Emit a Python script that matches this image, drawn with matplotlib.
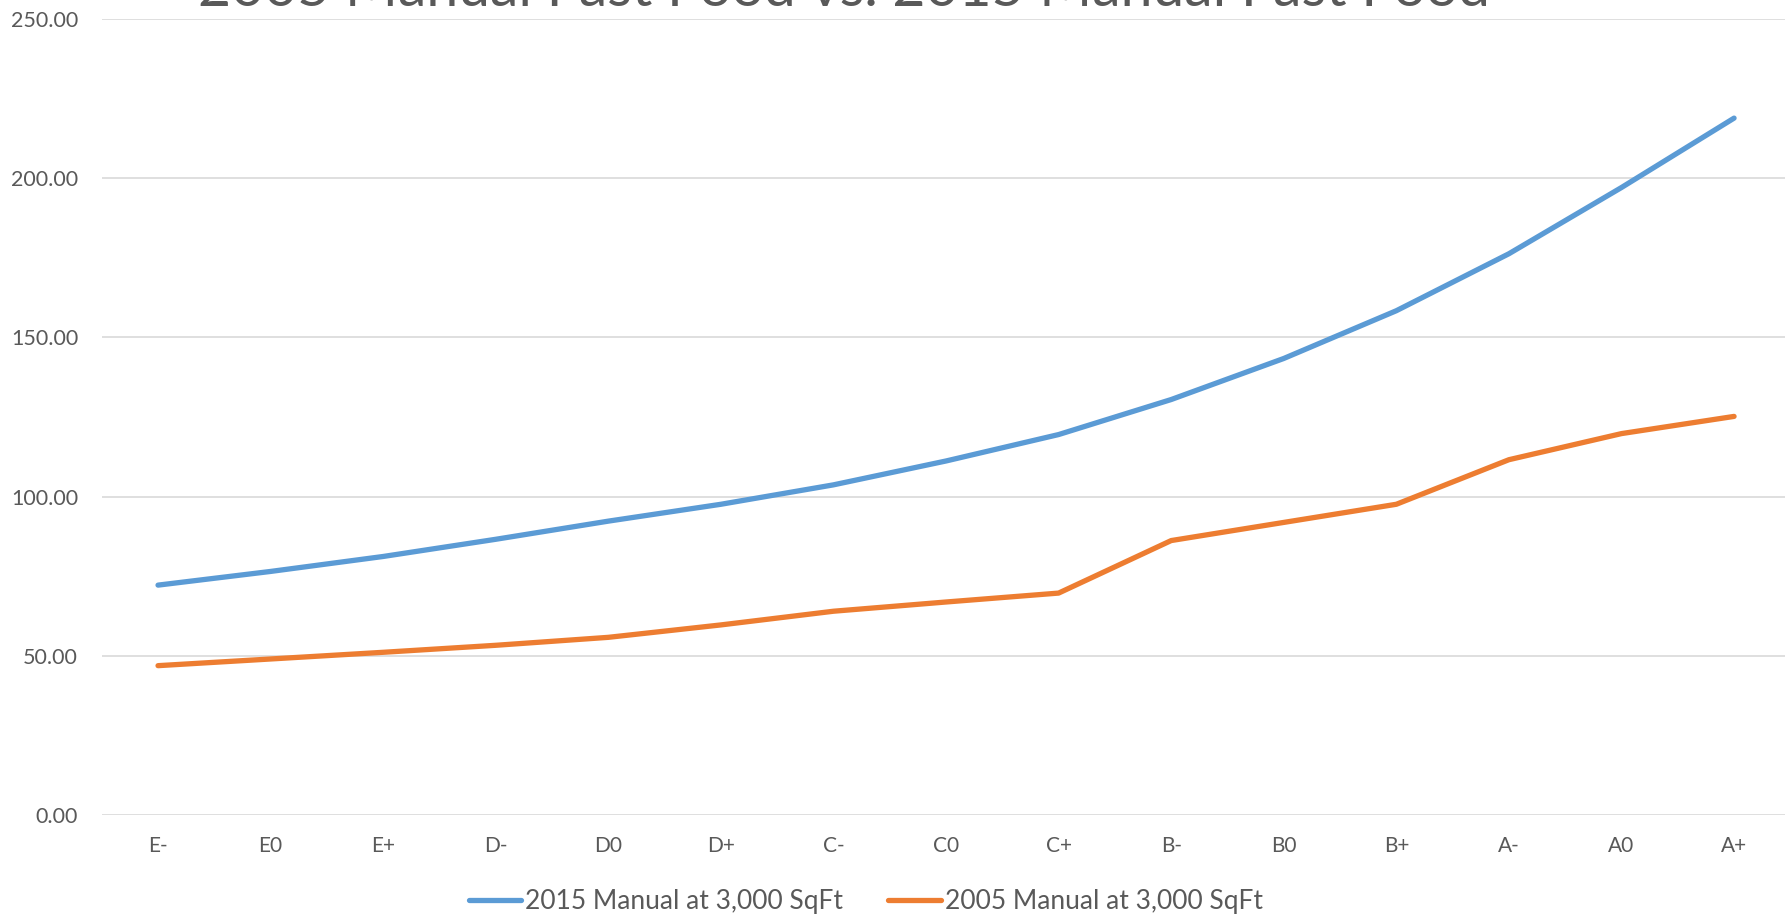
import matplotlib
matplotlib.use("Agg")
import matplotlib.pyplot as plt

grades = ["E-", "E0", "E+", "D-", "D0", "D+", "C-", "C0", "C+",
          "B-", "B0", "B+", "A-", "A0", "A+"]
manual_2015 = [72.2, 76.5, 81.2, 86.6, 92.3, 97.6, 103.7, 111.2, 119.5,
               130.5, 143.4, 158.4, 176.3, 197.1, 218.9]
manual_2005 = [46.9, 49.0, 51.1, 53.3, 55.8, 59.7, 64.0, 66.9, 69.7,
               86.2, 91.9, 97.6, 111.6, 119.8, 125.2]
y_ticks = [0, 50, 100, 150, 200, 250]

plt.rcParams['font.family'] = ['Lato', 'DejaVu Sans']
grey = '#595959'

fig = plt.figure(figsize=(17.85, 9.19), dpi=100)
ax = fig.add_axes([0.057, 0.1132, 0.946, 0.866])

x = range(len(grades))
ax.plot(x, manual_2015, color='#5B9BD5', lw=3.8, solid_capstyle='round',
        solid_joinstyle='round', label='2015 Manual at 3,000 SqFt', zorder=3)
ax.plot(x, manual_2005, color='#ED7D31', lw=3.8, solid_capstyle='round',
        solid_joinstyle='round', label='2005 Manual at 3,000 SqFt', zorder=3)

ax.set_xlim(-0.5, len(grades) - 0.5)
ax.set_ylim(0, 250)
ax.set_yticks(y_ticks)
ax.set_yticklabels([f"{v:.2f}" for v in y_ticks])
ax.set_xticks(list(x))
ax.set_xticklabels(grades)
ax.tick_params(axis='y', length=0, pad=17, labelsize=15.5, labelcolor=grey)
ax.tick_params(axis='x', length=0, pad=15, labelsize=15, labelcolor=grey)
ax.grid(axis='y', color='#D9D9D9', lw=1.2)
ax.set_axisbelow(True)
for s in ax.spines.values():
    s.set_visible(False)

fig.legend(loc='center', bbox_to_anchor=(0.485, 0.019), ncol=2, frameon=False,
           fontsize=19, labelcolor=grey, handlelength=2.0, handletextpad=0.15,
           columnspacing=1.7)

fig.text(0.473, 0.993, "2005 Manual Fast Food vs. 2015 Manual Fast Food",
         ha='center', va='baseline', fontsize=41, color=grey)

fig.savefig("out.png", dpi=100)
